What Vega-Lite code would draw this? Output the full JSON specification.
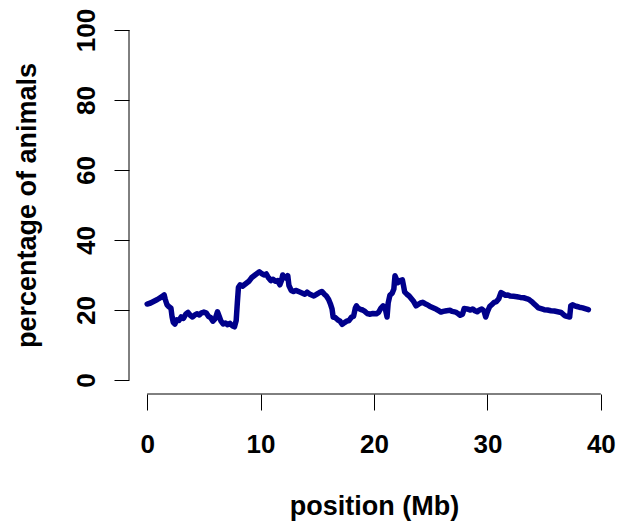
{
  "$schema": "https://vega.github.io/schema/vega-lite/v6.json",
  "width": 490,
  "height": 378,
  "autosize": {"type": "none"},
  "padding": {"left": 129, "top": 16, "right": 0, "bottom": 130},
  "background": "white",
  "config": {"view": {"stroke": null}, "font": "Liberation Sans"},
  "datasets": {
    "series": [
      {"pos": 0.0, "pct": 21.7}, {"pos": 0.3, "pct": 22.0}, {"pos": 0.6, "pct": 22.5}, {"pos": 0.9, "pct": 23.0},
      {"pos": 1.1, "pct": 23.4}, {"pos": 1.3, "pct": 23.8}, {"pos": 1.5, "pct": 24.3}, {"pos": 1.6, "pct": 23.0},
      {"pos": 1.75, "pct": 21.5}, {"pos": 1.9, "pct": 21.0}, {"pos": 2.1, "pct": 20.5}, {"pos": 2.2, "pct": 18.0},
      {"pos": 2.3, "pct": 16.5}, {"pos": 2.45, "pct": 16.0}, {"pos": 2.6, "pct": 17.2}, {"pos": 2.8, "pct": 17.0},
      {"pos": 3.0, "pct": 18.0}, {"pos": 3.2, "pct": 17.6}, {"pos": 3.4, "pct": 18.8}, {"pos": 3.6, "pct": 19.3},
      {"pos": 3.8, "pct": 18.5}, {"pos": 4.0, "pct": 18.0}, {"pos": 4.2, "pct": 18.6}, {"pos": 4.4, "pct": 18.9},
      {"pos": 4.6, "pct": 18.6}, {"pos": 4.8, "pct": 19.2}, {"pos": 5.0, "pct": 19.4}, {"pos": 5.2, "pct": 19.2},
      {"pos": 5.4, "pct": 18.2}, {"pos": 5.6, "pct": 17.8}, {"pos": 5.8, "pct": 16.8}, {"pos": 6.0, "pct": 17.5},
      {"pos": 6.2, "pct": 19.5}, {"pos": 6.35, "pct": 18.2}, {"pos": 6.5, "pct": 16.9}, {"pos": 6.7, "pct": 16.0},
      {"pos": 6.9, "pct": 16.3}, {"pos": 7.1, "pct": 15.8}, {"pos": 7.3, "pct": 16.2}, {"pos": 7.5, "pct": 15.5},
      {"pos": 7.7, "pct": 15.2}, {"pos": 7.85, "pct": 17.0}, {"pos": 7.95, "pct": 22.0}, {"pos": 8.05, "pct": 26.5},
      {"pos": 8.2, "pct": 27.2}, {"pos": 8.4, "pct": 26.8}, {"pos": 8.6, "pct": 27.3}, {"pos": 8.8, "pct": 27.8},
      {"pos": 9.0, "pct": 28.3}, {"pos": 9.2, "pct": 29.2}, {"pos": 9.4, "pct": 29.7}, {"pos": 9.6, "pct": 30.2},
      {"pos": 9.9, "pct": 30.9}, {"pos": 10.1, "pct": 30.4}, {"pos": 10.3, "pct": 30.0}, {"pos": 10.5, "pct": 30.3},
      {"pos": 10.7, "pct": 29.2}, {"pos": 10.9, "pct": 28.4}, {"pos": 11.1, "pct": 28.8}, {"pos": 11.3, "pct": 28.2},
      {"pos": 11.5, "pct": 28.4}, {"pos": 11.7, "pct": 27.2}, {"pos": 11.85, "pct": 28.5}, {"pos": 11.95, "pct": 30.0},
      {"pos": 12.1, "pct": 29.4}, {"pos": 12.3, "pct": 29.0}, {"pos": 12.4, "pct": 29.8}, {"pos": 12.5, "pct": 27.0},
      {"pos": 12.7, "pct": 25.6}, {"pos": 12.9, "pct": 25.3}, {"pos": 13.1, "pct": 25.6}, {"pos": 13.4, "pct": 25.2},
      {"pos": 13.7, "pct": 24.8}, {"pos": 13.9, "pct": 24.5}, {"pos": 14.1, "pct": 25.1}, {"pos": 14.3, "pct": 24.6},
      {"pos": 14.5, "pct": 24.3}, {"pos": 14.7, "pct": 24.0}, {"pos": 15.0, "pct": 24.6}, {"pos": 15.2, "pct": 25.0},
      {"pos": 15.4, "pct": 25.3}, {"pos": 15.6, "pct": 24.6}, {"pos": 15.8, "pct": 24.0}, {"pos": 16.0, "pct": 23.0},
      {"pos": 16.15, "pct": 21.8}, {"pos": 16.3, "pct": 20.3}, {"pos": 16.4, "pct": 18.0}, {"pos": 16.6, "pct": 17.8},
      {"pos": 16.8, "pct": 17.2}, {"pos": 17.0, "pct": 16.8}, {"pos": 17.2, "pct": 15.9}, {"pos": 17.4, "pct": 16.4},
      {"pos": 17.6, "pct": 16.8}, {"pos": 17.8, "pct": 17.0}, {"pos": 18.0, "pct": 17.9}, {"pos": 18.2, "pct": 18.2},
      {"pos": 18.35, "pct": 20.5}, {"pos": 18.45, "pct": 21.2}, {"pos": 18.6, "pct": 20.5}, {"pos": 18.8, "pct": 20.2},
      {"pos": 19.0, "pct": 20.0}, {"pos": 19.2, "pct": 19.6}, {"pos": 19.4, "pct": 19.0}, {"pos": 19.6, "pct": 18.8},
      {"pos": 19.9, "pct": 19.0}, {"pos": 20.2, "pct": 18.9}, {"pos": 20.4, "pct": 19.3}, {"pos": 20.6, "pct": 20.5},
      {"pos": 20.8, "pct": 21.2}, {"pos": 21.0, "pct": 20.3}, {"pos": 21.15, "pct": 18.0}, {"pos": 21.25, "pct": 22.0},
      {"pos": 21.4, "pct": 24.2}, {"pos": 21.6, "pct": 24.8}, {"pos": 21.75, "pct": 26.0}, {"pos": 21.85, "pct": 29.8},
      {"pos": 22.0, "pct": 28.6}, {"pos": 22.1, "pct": 27.8}, {"pos": 22.3, "pct": 28.4}, {"pos": 22.5, "pct": 28.6},
      {"pos": 22.6, "pct": 27.0}, {"pos": 22.7, "pct": 25.2}, {"pos": 22.9, "pct": 24.5}, {"pos": 23.1, "pct": 24.0},
      {"pos": 23.3, "pct": 23.2}, {"pos": 23.5, "pct": 22.4}, {"pos": 23.7, "pct": 21.2}, {"pos": 23.9, "pct": 21.6},
      {"pos": 24.1, "pct": 22.0}, {"pos": 24.3, "pct": 22.2}, {"pos": 24.5, "pct": 21.8}, {"pos": 24.7, "pct": 21.5},
      {"pos": 24.9, "pct": 21.1}, {"pos": 25.1, "pct": 20.8}, {"pos": 25.3, "pct": 20.5}, {"pos": 25.5, "pct": 20.2},
      {"pos": 25.7, "pct": 19.8}, {"pos": 25.9, "pct": 19.4}, {"pos": 26.1, "pct": 19.6}, {"pos": 26.4, "pct": 19.8},
      {"pos": 26.7, "pct": 19.9}, {"pos": 26.9, "pct": 19.6}, {"pos": 27.2, "pct": 19.4}, {"pos": 27.4, "pct": 19.0},
      {"pos": 27.6, "pct": 18.5}, {"pos": 27.8, "pct": 18.8}, {"pos": 27.95, "pct": 20.4}, {"pos": 28.2, "pct": 20.3},
      {"pos": 28.5, "pct": 20.0}, {"pos": 28.7, "pct": 20.3}, {"pos": 28.9, "pct": 19.8}, {"pos": 29.1, "pct": 19.5},
      {"pos": 29.3, "pct": 20.0}, {"pos": 29.5, "pct": 20.3}, {"pos": 29.7, "pct": 19.7}, {"pos": 29.85, "pct": 18.0},
      {"pos": 30.0, "pct": 19.5}, {"pos": 30.2, "pct": 21.0}, {"pos": 30.4, "pct": 21.6}, {"pos": 30.6, "pct": 22.2},
      {"pos": 30.8, "pct": 22.4}, {"pos": 31.0, "pct": 23.2}, {"pos": 31.2, "pct": 25.0}, {"pos": 31.4, "pct": 24.6},
      {"pos": 31.6, "pct": 24.2}, {"pos": 31.8, "pct": 24.3}, {"pos": 32.0, "pct": 24.0}, {"pos": 32.3, "pct": 23.9},
      {"pos": 32.6, "pct": 23.8}, {"pos": 32.9, "pct": 23.6}, {"pos": 33.2, "pct": 23.5}, {"pos": 33.5, "pct": 23.2},
      {"pos": 33.7, "pct": 22.9}, {"pos": 33.9, "pct": 22.4}, {"pos": 34.1, "pct": 21.8}, {"pos": 34.3, "pct": 21.2},
      {"pos": 34.5, "pct": 20.6}, {"pos": 34.8, "pct": 20.3}, {"pos": 35.0, "pct": 20.1}, {"pos": 35.3, "pct": 20.0},
      {"pos": 35.6, "pct": 19.8}, {"pos": 35.9, "pct": 19.7}, {"pos": 36.2, "pct": 19.5}, {"pos": 36.5, "pct": 19.3},
      {"pos": 36.8, "pct": 18.4}, {"pos": 37.0, "pct": 18.2}, {"pos": 37.25, "pct": 18.0}, {"pos": 37.35, "pct": 21.2},
      {"pos": 37.5, "pct": 21.5}, {"pos": 37.7, "pct": 21.2}, {"pos": 37.9, "pct": 21.0}, {"pos": 38.1, "pct": 20.8},
      {"pos": 38.4, "pct": 20.6}, {"pos": 38.6, "pct": 20.4}, {"pos": 38.9, "pct": 20.1}
    ],
    "xaxisline": [{"a": 0, "b": 40, "c": -4}],
    "yaxisline": [{"a": 0, "b": 100, "c": -1.6}]
  },
  "layer": [
    {
      "data": {"name": "series"},
      "mark": {"type": "line", "color": "#00008B", "strokeWidth": 5.5, "strokeJoin": "round", "strokeCap": "round"},
      "encoding": {
        "x": {
          "field": "pos", "type": "quantitative",
          "scale": {"domain": [-1.6, 41.6], "nice": false, "zero": false},
          "axis": {
            "title": "position (Mb)", "values": [0, 10, 20, 30, 40], "domain": false, "grid": false,
            "tickSize": 16, "tickColor": "black", "tickWidth": 1,
            "labelFont": "Liberation Sans", "labelFontWeight": "bold", "labelFontSize": 26, "labelColor": "black",
            "labelBaseline": "alphabetic", "labelPadding": 42, "labelFlush": false, "labelOverlap": false,
            "titleFont": "Liberation Sans", "titleFontWeight": "bold", "titleFontSize": 27, "titleColor": "black",
            "titleBaseline": "alphabetic", "titleY": 120
          }
        },
        "y": {
          "field": "pct", "type": "quantitative",
          "scale": {"domain": [-4, 104], "nice": false, "zero": false},
          "axis": {
            "title": "percentage of animals", "values": [0, 20, 40, 60, 80, 100], "domain": false, "grid": false,
            "tickSize": 15, "tickColor": "black", "tickWidth": 1,
            "labelFont": "Liberation Sans", "labelFontWeight": "bold", "labelFontSize": 26, "labelColor": "black",
            "labelAngle": 270, "labelAlign": "center", "labelBaseline": "alphabetic", "labelPadding": 20,
            "labelFlush": false, "labelOverlap": false,
            "titleFont": "Liberation Sans", "titleFontWeight": "bold", "titleFontSize": 27, "titleColor": "black",
            "titleAngle": 270, "titleBaseline": "alphabetic", "titleAlign": "center", "titleX": -94, "titleY": 189
          }
        }
      }
    },
    {
      "data": {"name": "xaxisline"},
      "mark": {"type": "rule", "color": "black", "strokeWidth": 1},
      "encoding": {
        "x": {"field": "a", "type": "quantitative"},
        "x2": {"field": "b"},
        "y": {"field": "c", "type": "quantitative"}
      }
    },
    {
      "data": {"name": "yaxisline"},
      "mark": {"type": "rule", "color": "black", "strokeWidth": 1},
      "encoding": {
        "y": {"field": "a", "type": "quantitative"},
        "y2": {"field": "b"},
        "x": {"field": "c", "type": "quantitative"}
      }
    }
  ]
}
